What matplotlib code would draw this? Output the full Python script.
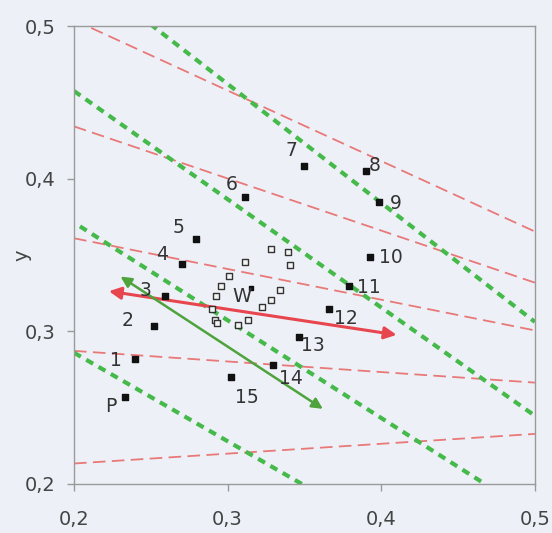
import matplotlib
matplotlib.use("Agg")
import matplotlib.pyplot as plt
import numpy as np

# ---- data ----
pt_labels = ["P", "1", "2", "3", "4", "5", "6", "7", "8", "9", "10", "11", "12", "13", "14", "15"]
pt_x = [0.233, 0.240, 0.252, 0.259, 0.270, 0.2795, 0.311, 0.350, 0.390, 0.3987, 0.393, 0.379, 0.366, 0.3467, 0.3295, 0.3025]
pt_y = [0.257, 0.282, 0.3035, 0.323, 0.344, 0.3605, 0.388, 0.4086, 0.405, 0.385, 0.3487, 0.3296, 0.3147, 0.296, 0.278, 0.2704]

w_x = [0.315]
w_y = [0.3285]

hollow_x = [0.3116, 0.328, 0.339, 0.3405, 0.301, 0.2956, 0.2926, 0.290, 0.2915, 0.293, 0.307, 0.3135, 0.3225, 0.328, 0.334]
hollow_y = [0.3457, 0.354, 0.3518, 0.3435, 0.3364, 0.3296, 0.3234, 0.3144, 0.3073, 0.3055, 0.304, 0.3077, 0.316, 0.3207, 0.3274]

# red dashed lines: (x0, y0, x1, y1)
red_x0 = [0.2, 0.2, 0.2, 0.2, 0.2]
red_y0 = [0.504, 0.4343, 0.361, 0.2872, 0.2134]
red_x1 = [0.5, 0.5, 0.5, 0.5, 0.5]
red_y1 = [0.3654, 0.3319, 0.3006, 0.2664, 0.2328]

# green dotted lines
green_x0 = [0.2497, 0.2, 0.2039, 0.2]
green_y0 = [0.5013, 0.4575, 0.3688, 0.286]
green_x1 = [0.5, 0.5, 0.4675, 0.3483]
green_y1 = [0.3062, 0.2447, 0.2, 0.2]

# arrows
red_arrow = (0.2227, 0.3263, 0.410, 0.2977)
green_arrow = (0.2303, 0.3359, 0.362, 0.2492)

xticks = [0.2, 0.3, 0.4, 0.5]
yticks = [0.2, 0.3, 0.4, 0.5]
tick_labels = ["0,2", "0,3", "0,4", "0,5"]

# label offsets (points), style only
lab_dx = [-10, -14, -19, -14, -14, -13, -9, -9, 6, 12, 15, 14, 12, 10, 13, 11]
lab_dy = [-7, -1, 4, 4, 7, 8, 9, 11, 4, -1, -0.5, -1, -7, -5.5, -10, -15]

bg = "#edf1f7"
fig = plt.figure(figsize=(5.52, 5.33), dpi=100, facecolor=bg)
ax = fig.add_axes([0.134, 0.092, 0.835, 0.859], facecolor=bg)

for x0, y0, x1, y1 in zip(red_x0, red_y0, red_x1, red_y1):
    ax.plot([x0, x1], [y0, y1], color="#e97878", lw=1.3, dashes=(7, 3.5), zorder=2)
for x0, y0, x1, y1 in zip(green_x0, green_y0, green_x1, green_y1):
    ax.plot([x0, x1], [y0, y1], color="#45b94a", lw=3.0, dashes=(1.9, 1.5), zorder=2)

ax.annotate("", xy=red_arrow[:2], xytext=red_arrow[2:],
            arrowprops=dict(arrowstyle="<|-|>", color="#e8464e", lw=2.2,
                            mutation_scale=18, shrinkA=0, shrinkB=0), zorder=4)
ax.annotate("", xy=green_arrow[:2], xytext=green_arrow[2:],
            arrowprops=dict(arrowstyle="<|-|>", color="#4ea33c", lw=1.8,
                            mutation_scale=16, shrinkA=0, shrinkB=0), zorder=4)

ax.scatter(hollow_x, hollow_y, marker="s", s=14, facecolor="#f4f4f4", edgecolor="#333333", lw=1.0, zorder=5)
ax.scatter(pt_x, pt_y, marker="s", s=14, color="#111111", zorder=5)
ax.scatter(w_x, w_y, marker="s", s=8, color="#111111", zorder=5)

for lab, x, y, dx, dy in zip(pt_labels, pt_x, pt_y, lab_dx, lab_dy):
    ax.annotate(lab, (x, y), xytext=(dx, dy), textcoords="offset points",
                ha="center", va="center", fontsize=13.5, color="#333333", zorder=6)
ax.annotate("W", (w_x[0], w_y[0]), xytext=(-6, -6), textcoords="offset points",
            ha="center", va="center", fontsize=14, color="#333333", zorder=6)

ax.set_xlim(0.2, 0.5)
ax.set_ylim(0.2, 0.5)
ax.set_xticks(xticks)
ax.set_xticklabels(tick_labels)
ax.set_yticks(yticks)
ax.set_yticklabels(tick_labels)
ax.tick_params(axis="x", length=5, width=1, color="#999999", pad=14, labelsize=14, labelcolor="#444444")
ax.tick_params(axis="y", length=5, width=1, color="#999999", pad=8, labelsize=14, labelcolor="#444444")
for s in ax.spines.values():
    s.set_color("#9a9a9a")
    s.set_linewidth(1.0)
ax.set_ylabel("y", fontsize=14, color="#444444", va="center")
ax.yaxis.set_label_coords(-0.113, 0.5)

fig.savefig("out.png", dpi=100, facecolor=bg)
